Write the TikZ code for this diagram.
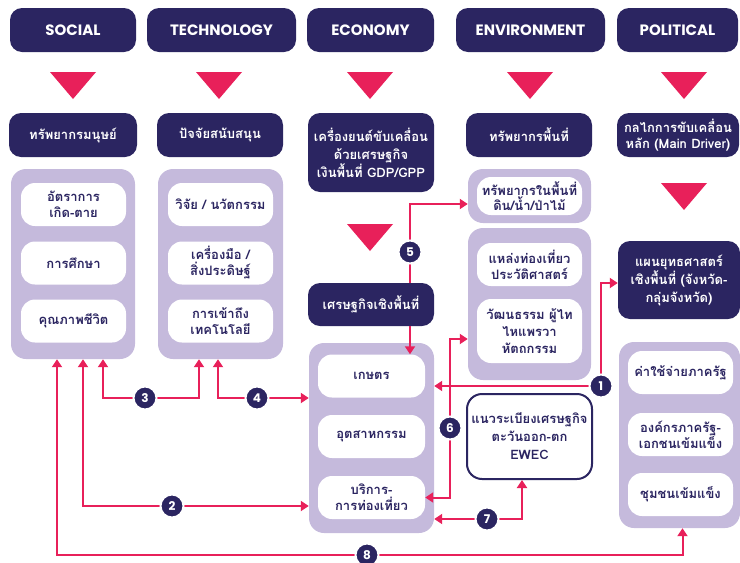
\documentclass[tikz,border=0pt]{standalone}
\usepackage{fontspec}
\newfontfamily\thaifont[Script=Thai]{Loma}
\newfontfamily\popfont{Poppins}
\usetikzlibrary{arrows.meta}
\definecolor{navy}{HTML}{2B2561}
\definecolor{rose}{HTML}{E8205A}
\definecolor{lilac}{HTML}{C5BADC}
\tikzset{
	head/.style={fill=navy, rounded corners=12pt, text=white, font=\popfont\bfseries\fontsize{15}{18}\selectfont, minimum height=44pt, inner sep=0pt},
	darkbox/.style={fill=navy, rounded corners=12pt, text=white, align=center, font=\thaifont\bfseries\fontsize{13}{18}\selectfont, minimum height=44pt, inner sep=0pt},
	panel/.style={fill=lilac, rounded corners=15pt, inner sep=0pt},
	item/.style={fill=white, rounded corners=14pt, text=navy, align=center, font=\thaifont\bfseries\fontsize{13}{16}\selectfont, minimum width=105pt, minimum height=43pt, inner sep=0pt},
	badge/.style={circle, fill=navy, draw=white, line width=2pt, text=white, font=\popfont\bfseries\fontsize{12}{12}\selectfont, minimum size=23pt, inner sep=0pt},
	link/.style={rose, line width=2pt, -{Triangle[length=8pt,width=10pt]}},
}
\begin{document}
\begin{tikzpicture}[x=1pt,y=-1pt]
				\useasboundingbox (0,0) rectangle (740,563);
				% top row
				\node[head, minimum width=126pt] (soc) at (73,30) {SOCIAL};
				\node[head, minimum width=149pt] (tech) at (221.5,30) {TECHNOLOGY};
				\node[head, minimum width=127pt] (eco) at (370.5,30) {ECONOMY};
				\node[head, minimum width=149pt] (env) at (530.5,30) {ENVIRONMENT};
				\node[head, minimum width=121pt] (pol) at (677.5,30) {POLITICAL};
				\foreach \cx/\ty in {73/72,219/72,370/72,530/72,684/72,370/224,684/183} \fill[rose] (\cx-23,\ty) -- (\cx+23,\ty) -- (\cx,\ty+27) -- cycle;
				% second row
				\node[darkbox, minimum width=128pt] (hum) at (73,135) {ทรัพยากรมนุษย์};
				\node[darkbox, minimum width=126pt] (sup) at (220,135) {ปัจจัยสนับสนุน};
				\node[darkbox, minimum width=126pt, minimum height=79pt] (eng) at (371,152.5) {เครื่องยนต์ขับเคลื่อน\\ด้วยเศรษฐกิจ\\เงินพื้นที่ GDP/GPP};
				\node[darkbox, minimum width=126pt] (area) at (529,135) {ทรัพยากรพื้นที่};
				\node[darkbox, minimum width=122pt, font=\thaifont\bfseries\fontsize{13}{16}\selectfont] (drv) at (678,135) {กลไกการขับเคลื่อน\\หลัก (Main Driver)};
				% panels
				\node[panel, minimum width=124pt, minimum height=190pt] (socpanel) at (73,264) {};
				\node[panel, minimum width=125pt, minimum height=190pt] (techpanel) at (220.5,264) {};
				\node[panel, minimum width=125pt, minimum height=190pt] (ecopanel) at (371.5,438) {};
				\node[panel, minimum width=123pt, minimum height=54pt] (envpanela) at (529.5,196) {};
				\node[panel, minimum width=123pt, minimum height=152pt] (envpanelb) at (529.5,304) {};
				\node[panel, minimum width=121pt, minimum height=186pt] (polpanel) at (679.5,435) {};
				% items
				\node[item] (birth) at (73.5,204.5) {อัตราการ\\เกิด-ตาย};
				\node[item] (edu) at (73.5,263) {การศึกษา};
				\node[item] (life) at (73.5,321) {คุณภาพชีวิต};
				\node[item] (rnd) at (220.5,204.5) {วิจัย / นวัตกรรม};
				\node[item] (tool) at (220.5,263) {เครื่องมือ /\\สิ่งประดิษฐ์};
				\node[item] (acc) at (220.5,321) {การเข้าถึง\\เทคโนโลยี};
				\node[darkbox, minimum width=126pt, minimum height=43pt] (spatial) at (371,304.5) {เศรษฐกิจเชิงพื้นที่};
				\node[item, minimum width=107pt] (farm) at (371.5,376) {เกษตร};
				\node[item, minimum width=107pt] (ind) at (371.5,436.5) {อุตสาหกรรม};
				\node[item, minimum width=107pt] (tour) at (371.5,497.5) {บริการ-\\การท่องเที่ยว};
				\node[item, minimum height=38pt, font=\thaifont\bfseries\fontsize{13}{15}\selectfont] (land) at (529.5,196) {ทรัพยากรในพื้นที่\\ดิน/น้ำ/ป่าไม้};
				\node[item] (hist) at (529.5,264.5) {แหล่งท่องเที่ยว\\ประวัติศาสตร์};
				\node[item, minimum height=64pt, font=\thaifont\bfseries\fontsize{13}{17}\selectfont] (cult) at (529.5,331) {วัฒนธรรม ผู้ไท\\ไหแพรวา\\หัตถกรรม};
				\node[item, draw=navy, line width=2pt, rounded corners=15pt, minimum width=125pt, minimum height=85pt, font=\thaifont\bfseries\fontsize{13}{18}\selectfont] (ewec) at (529.5,436.5) {แนวระเบียงเศรษฐกิจ\\ตะวันออก-ตก\\EWEC};
				\node[darkbox, minimum width=122pt, minimum height=78pt] (strat) at (679,280) {แผนยุทธศาสตร์\\เชิงพื้นที่ (จังหวัด-\\กลุ่มจังหวัด)};
				\node[item] (spend) at (680.5,372.5) {ค่าใช้จ่ายภาครัฐ};
				\node[item] (org) at (680.5,434.5) {องค์กรภาครัฐ-\\เอกชนเข้มแข็ง};
				\node[item] (comm) at (680.5,494.5) {ชุมชนเข้มแข็ง};
				% links
				\coordinate (p1) at (601,386); \coordinate (p2) at (172,506); \coordinate (p3) at (145,398); \coordinate (p4) at (257,398);
				\coordinate (p5) at (410,252); \coordinate (p6) at (450,428); \coordinate (p7) at (487,519); \coordinate (p8) at (367,555);
				\draw[link] (p1) -- (ecopanel.east |- p1);
				\draw[link] (p1) |- ([yshift=-3pt]strat.west);
				\draw[link] (p2) -| ([xshift=10pt]socpanel.south);
				\draw[link] (p2) -- (ecopanel.west |- p2);
				\draw[link] (p3) -| ([xshift=30pt]socpanel.south);
				\draw[link] (p3) -| ([xshift=-21.5pt]techpanel.south);
				\draw[link] (p4) -| ([xshift=-2.5pt]techpanel.south);
				\draw[link] (p4) -- (ecopanel.west |- p4);
				\draw[rose, line width=2pt] (spatial.north -| p5) -- (p5);
				\draw[link] (p5) |- ([yshift=-8pt]envpanela.west);
				\draw[link] (spatial.south -| p5) -- (farm.north -| p5);
				\draw[link] (p6) |- (tour.east);
				\draw[link] (p6) |- ([yshift=-35pt]envpanelb.west);
				\draw[link] (p7) -- (ecopanel.east |- p7);
				\draw[link] (p7) -| ([xshift=-7.5pt]ewec.south);
				\draw[link] (p8) -| ([xshift=-16pt]socpanel.south);
				\draw[link] (p8) -| ([xshift=3pt]polpanel.south);
				\foreach \n in {1,...,8} \node[badge] (b\n) at (p\n) {\n};
			\end{tikzpicture}
\end{document}
